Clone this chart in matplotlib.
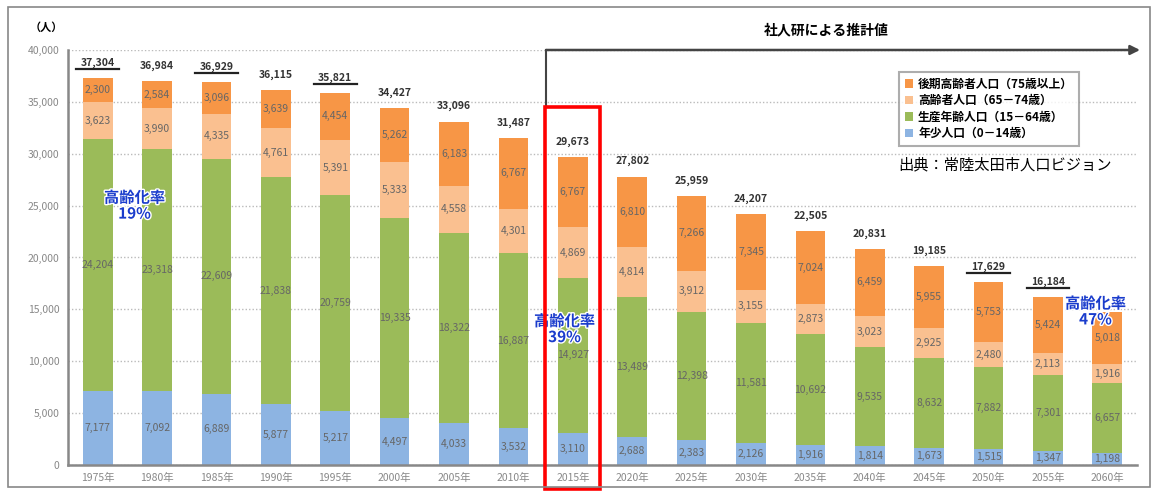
import matplotlib
matplotlib.use("Agg")
import matplotlib.pyplot as plt
import matplotlib.patheffects as pe
import matplotlib.transforms as mtrans
from matplotlib.patches import Rectangle
from matplotlib.lines import Line2D
import numpy as np

plt.rcParams['font.family'] = ['Noto Sans CJK JP', 'DejaVu Sans']

years = ["1975年", "1980年", "1985年", "1990年", "1995年", "2000年", "2005年", "2010年", "2015年",
         "2020年", "2025年", "2030年", "2035年", "2040年", "2045年", "2050年", "2055年", "2060年"]
young = [7177, 7092, 6889, 5877, 5217, 4497, 4033, 3532, 3110,
         2688, 2383, 2126, 1916, 1814, 1673, 1515, 1347, 1198]
working = [24204, 23318, 22609, 21838, 20759, 19335, 18322, 16887, 14927,
           13489, 12398, 11581, 10692, 9535, 8632, 7882, 7301, 6657]
early_old = [3623, 3990, 4335, 4761, 5391, 5333, 4558, 4301, 4869,
             4814, 3912, 3155, 2873, 3023, 2925, 2480, 2113, 1916]
late_old = [2300, 2584, 3096, 3639, 4454, 5262, 6183, 6767, 6767,
            6810, 7266, 7345, 7024, 6459, 5955, 5753, 5424, 5018]
totals = ["37,304", "36,984", "36,929", "36,115", "35,821", "34,427", "33,096", "31,487", "29,673",
          "27,802", "25,959", "24,207", "22,505", "20,831", "19,185", "17,629", "16,184", None]
underlined = [True, False, True, False, True, False, False, False, False,
              False, False, False, False, False, False, True, True, False]
series_names = ["年少人口（0－14歳）", "生産年齢人口（15－64歳）", "高齢者人口（65－74歳）", "後期高齢者人口（75歳以上）"]
colors = ["#8DB4E2", "#9BBB59", "#FAC090", "#F79646"]
aging_notes = [("高齢化率\n19%", 0.62, 25000), ("高齢化率\n39%", 7.86, 13100), ("高齢化率\n47%", 16.8, 14800)]

fig = plt.figure(figsize=(11.56, 4.92), dpi=100)
ax = fig.add_axes([0.0588, 0.0549, 0.9248, 0.8435])

x = np.arange(len(years))
w = 0.5
series = [young, working, early_old, late_old]
bottom = np.zeros(len(years))
handles = []
for vals, col, name in zip(series, colors, series_names):
    vals = np.array(vals, dtype=float)
    b = ax.bar(x, vals, w, bottom=bottom, color=col, label=name, zorder=2)
    handles.append(b)
    for xi, v, bt in zip(x, vals, bottom):
        ax.text(xi, bt + v / 2, f"{int(v):,}", ha="center", va="center",
                fontsize=7.5, color="#666666", zorder=4)
    bottom += vals

ul_trans = ax.transData + mtrans.ScaledTranslation(0, 6.5 / 72, fig.dpi_scale_trans)
for xi, tot, ul, top in zip(x, totals, underlined, bottom):
    if tot is None:
        continue
    ax.annotate(tot, (xi, top), xytext=(0, 11), textcoords="offset points",
                ha="center", va="center", fontsize=7.5, fontweight="bold", color="#333333", zorder=4)
    if ul:
        ax.add_line(Line2D([xi - 0.36, xi + 0.36], [top, top], transform=ul_trans,
                           color="#222222", lw=1.6, zorder=4, clip_on=False))

ax.set_xlim(-0.5, 17.5)
ax.set_ylim(0, 40000)
ax.set_yticks(np.arange(0, 40001, 5000))
ax.set_yticklabels([f"{v:,}" for v in range(0, 40001, 5000)], fontsize=7.5, color="#888888")
ax.set_xticks(x)
ax.set_xticklabels(years, fontsize=7.5, color="#888888")
ax.tick_params(length=0, pad=6)
ax.grid(axis="y", linestyle=(0, (1, 1.5)), color="#BBBBBB", linewidth=1.0, zorder=0)
ax.set_axisbelow(True)
for s in ["top", "right"]:
    ax.spines[s].set_visible(False)
for s in ["left", "bottom"]:
    ax.spines[s].set_color("#888888")
    ax.spines[s].set_linewidth(1.8)

fig.text(0.026, 0.945, "（人）", fontsize=8, fontweight="bold", ha="left", va="center")

for txt, tx, ty in aging_notes:
    ax.text(tx, ty, txt, ha="center", va="center", fontsize=11, fontweight="bold",
            color="#1A3CCC", linespacing=1.0, zorder=6,
            path_effects=[pe.withStroke(linewidth=2, foreground="white")])

# projection arrow
ax.plot([7.55, 7.55], [34500, 40000], color="#444444", lw=1.5, clip_on=False, zorder=5)
ax.annotate("", xy=(17.55, 40000), xytext=(7.55, 40000),
            arrowprops=dict(arrowstyle="-|>", color="#444444", lw=1.8, mutation_scale=14,
                            shrinkA=0, shrinkB=0), annotation_clip=False, zorder=5)
ax.text(12.26, 41900, "社人研による推計値", ha="center", va="center", fontsize=10,
        fontweight="bold", clip_on=False)

# red highlight box around 2015
ax.add_patch(Rectangle((8 - 0.46, -2300), 0.92, 36800, fill=False, edgecolor="#FF0000",
                       lw=2.6, clip_on=False, zorder=7))

leg = ax.legend(handles[::-1], series_names[::-1], loc="upper left",
                bbox_to_anchor=(0.772, 0.962), frameon=True, fancybox=False,
                handlelength=0.7, handleheight=0.7, handletextpad=0.4,
                borderpad=0.5, labelspacing=0.3, prop={"weight": "bold", "size": 8.5})
leg.get_frame().set_edgecolor("#999999")
leg.get_frame().set_linewidth(1.5)

fig.text(0.777, 0.665, "出典：常陸太田市人口ビジョン", fontsize=11, ha="left", va="center")

fig.add_artist(Rectangle((0.007, 0.01), 0.988, 0.975, transform=fig.transFigure,
                         fill=False, edgecolor="#888888", lw=1.2))

fig.savefig("out.png", dpi=100)
